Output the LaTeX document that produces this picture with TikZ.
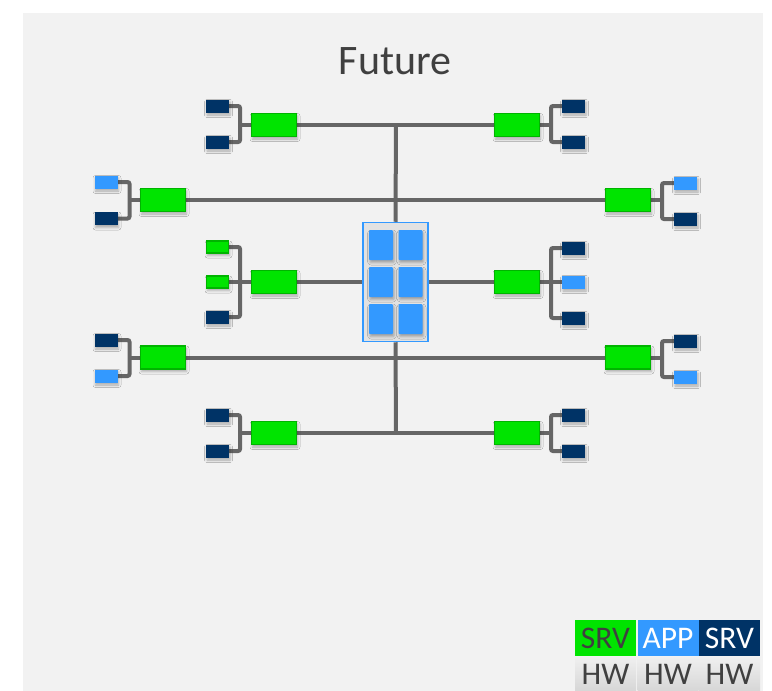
\documentclass[tikz,border=0pt]{standalone}
\usepackage{fontspec}
\setmainfont{Carlito}
\usetikzlibrary{backgrounds,shadows.blur}
\definecolor{panel}{HTML}{F2F2F2}
\definecolor{srvgreen}{HTML}{00E400}
\definecolor{srvedge}{HTML}{00B400}
\definecolor{navy}{HTML}{003366}
\definecolor{appblue}{HTML}{3399FF}
\definecolor{wirecol}{HTML}{666666}
\definecolor{ink}{HTML}{404040}
\definecolor{corefill}{HTML}{E2E2E2}

\begin{document}
\begin{tikzpicture}[x=1pt,y=-1pt,
  softshadow/.style={blur shadow={shadow xshift=1pt,shadow yshift=-2.5pt,shadow blur radius=2.5pt,shadow opacity=30}},
  srvbig/.style={draw=srvedge,line width=1.2pt,fill=srvgreen,minimum width=45pt,minimum height=23pt,inner sep=0pt,softshadow},
  srvsmall/.style={draw=srvedge,line width=1.2pt,fill=srvgreen,minimum width=22pt,minimum height=12pt,inner sep=0pt,softshadow},
  hwnavy/.style={fill=navy,minimum width=23pt,minimum height=13pt,inner sep=0pt,softshadow},
  hwapp/.style={fill=appblue,minimum width=23pt,minimum height=13pt,inner sep=0pt,softshadow},
  appcell/.style={fill=appblue,rounded corners=1pt,minimum width=24pt,minimum height=30pt,inner sep=0pt,softshadow},
  corebox/.style={draw=appblue,line width=1.5pt,fill=corefill,minimum width=65pt,minimum height=119pt,inner sep=0pt},
  wire/.style={draw=wirecol,line width=4pt},
  bracket/.style={wire,rounded corners=2pt},
  legtop/.style={minimum width=61pt,minimum height=36pt,inner sep=0pt,font=\fontsize{31.5}{33}\selectfont},
  leghw/.style={minimum width=61pt,minimum height=34pt,inner sep=0pt,top color=white!94!black,bottom color=white!84!black,text=ink,font=\fontsize{31.5}{33}\selectfont},
]
\useasboundingbox (0,0) rectangle (772,691);

% title
\node[text=ink,font=\fontsize{42}{50}\selectfont] (title) at (395,61) {Future};

% central application block
\node[corebox] (core) at (395.5,282) {};
\node[appcell] (c11) at (381,245) {};
\node[appcell] (c12) at (410.5,245) {};
\node[appcell] (c21) at (381,282) {};
\node[appcell] (c22) at (410.5,282) {};
\node[appcell] (c31) at (381,319) {};
\node[appcell] (c32) at (410.5,319) {};

% trunk ends
\coordinate (ttop) at (396,125);
\coordinate (tbot) at (396,433);

% row 1
\node[srvbig] (g1L) at (274,125) {};
\node[hwnavy] (s1La) at (217.5,106) {};
\node[hwnavy] (s1Lb) at (217.5,142) {};
\coordinate (j1L) at (240,125);
\node[srvbig] (g1R) at (517,125) {};
\node[hwnavy] (s1Ra) at (573.5,106) {};
\node[hwnavy] (s1Rb) at (573.5,142) {};
\coordinate (j1R) at (551,125);

% row 2
\node[srvbig] (g2L) at (163,200) {};
\node[hwapp] (s2La) at (106,182) {};
\node[hwnavy] (s2Lb) at (106,218.5) {};
\coordinate (j2L) at (129.5,200);
\node[srvbig] (g2R) at (628,200) {};
\node[hwapp] (s2Ra) at (685.5,183) {};
\node[hwnavy] (s2Rb) at (685.5,219) {};
\coordinate (j2R) at (662,200);

% row 3
\node[srvbig] (g3L) at (274,282) {};
\node[srvsmall] (s3La) at (217.5,247) {};
\node[srvsmall] (s3Lb) at (217.5,282) {};
\node[hwnavy] (s3Lc) at (217.5,317) {};
\coordinate (j3L) at (240,282);
\node[srvbig] (g3R) at (517,282) {};
\node[hwnavy] (s3Ra) at (573.5,248) {};
\node[hwapp] (s3Rb) at (573.5,282) {};
\node[hwnavy] (s3Rc) at (573.5,318) {};
\coordinate (j3R) at (551,282);

% row 4
\node[srvbig] (g4L) at (163,357.5) {};
\node[hwnavy] (s4La) at (106,340) {};
\node[hwapp] (s4Lb) at (106,376) {};
\coordinate (j4L) at (129.5,357.5);
\node[srvbig] (g4R) at (628,357.5) {};
\node[hwnavy] (s4Ra) at (685.5,341) {};
\node[hwapp] (s4Rb) at (685.5,377) {};
\coordinate (j4R) at (662,357.5);

% row 5
\node[srvbig] (g5L) at (274,433) {};
\node[hwnavy] (s5La) at (217.5,415) {};
\node[hwnavy] (s5Lb) at (217.5,451) {};
\coordinate (j5L) at (240,433);
\node[srvbig] (g5R) at (517,433) {};
\node[hwnavy] (s5Ra) at (573.5,415) {};
\node[hwnavy] (s5Rb) at (573.5,451) {};
\coordinate (j5R) at (551,433);

% legend
\node[legtop,fill=srvgreen,text=ink] (lsrv) at (605.5,638) {SRV};
\node[legtop,fill=appblue,text=white] (lapp) at (668,638) {APP};
\node[legtop,fill=navy,text=white] (lsrv2) at (729.5,638) {SRV};
\node[leghw] (lhw1) at (605.5,674) {HW};
\node[leghw] (lhw2) at (668,674) {HW};
\node[leghw] (lhw3) at (729.5,674) {HW};

\begin{scope}[on background layer]
  \fill[panel] (23,13) rectangle (763,691);
  % trunk
  \draw[wire] (ttop) -- (core.north);
  \draw[wire] (core.south) -- (tbot);
  % horizontal buses
  \draw[wire] (g1L.east) -- (g1R.west);
  \draw[wire] (g2L.east) -- (g2R.west);
  \draw[wire] (g3L.east) -- (core.west);
  \draw[wire] (core.east) -- (g3R.west);
  \draw[wire] (g4L.east) -- (g4R.west);
  \draw[wire] (g5L.east) -- (g5R.west);
  % brackets, left side
  \draw[bracket] (s1La.east) -| (j1L) |- (s1Lb.east);
  \draw[wire] (j1L) -- (g1L.west);
  \draw[bracket] (s2La.east) -| (j2L) |- (s2Lb.east);
  \draw[wire] (j2L) -- (g2L.west);
  \draw[bracket] (s3La.east) -| (j3L) |- (s3Lc.east);
  \draw[wire] (s3Lb.east) -- (g3L.west);
  \draw[bracket] (s4La.east) -| (j4L) |- (s4Lb.east);
  \draw[wire] (j4L) -- (g4L.west);
  \draw[bracket] (s5La.east) -| (j5L) |- (s5Lb.east);
  \draw[wire] (j5L) -- (g5L.west);
  % brackets, right side
  \draw[bracket] (s1Ra.west) -| (j1R) |- (s1Rb.west);
  \draw[wire] (g1R.east) -- (j1R);
  \draw[bracket] (s2Ra.west) -| (j2R) |- (s2Rb.west);
  \draw[wire] (g2R.east) -- (j2R);
  \draw[bracket] (s3Ra.west) -| (j3R) |- (s3Rc.west);
  \draw[wire] (g3R.east) -- (s3Rb.west);
  \draw[bracket] (s4Ra.west) -| (j4R) |- (s4Rb.west);
  \draw[wire] (g4R.east) -- (j4R);
  \draw[bracket] (s5Ra.west) -| (j5R) |- (s5Rb.west);
  \draw[wire] (g5R.east) -- (j5R);
\end{scope}
\end{tikzpicture}
\end{document}
